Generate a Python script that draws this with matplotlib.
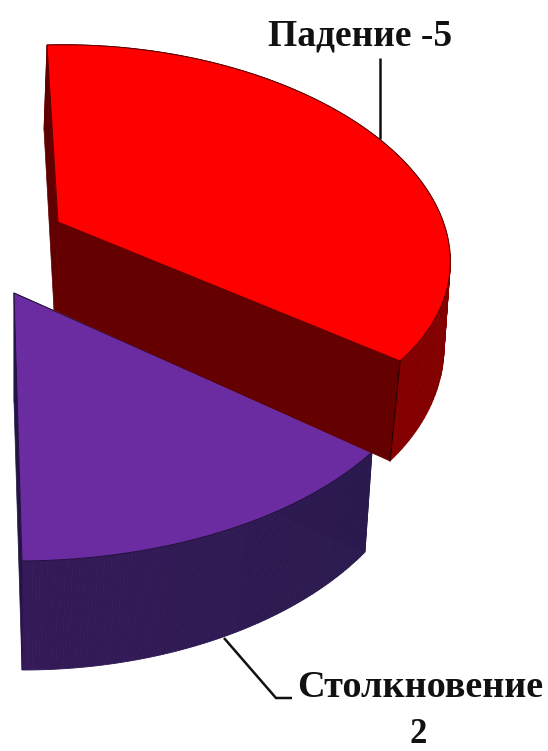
import numpy as np
import matplotlib
matplotlib.use("Agg")
import matplotlib.pyplot as plt
from matplotlib.patches import Polygon

categories = ["Падение", "Столкновение"]
values = [5, 2]
deg_per_unit = 25.0

W, H = 548, 751
fig = plt.figure(figsize=(W / 100, H / 100), dpi=100)
ax = fig.add_axes([0, 0, 1, 1])
ax.set_xlim(0, W)
ax.set_ylim(H, 0)
ax.axis("off")


def homography(src, dst):
    rows = []
    for (x, y), (u, v) in zip(src, dst):
        rows.append([x, y, 1, 0, 0, 0, -u * x, -u * y, -u])
        rows.append([0, 0, 0, x, y, 1, -v * x, -v * y, -v])
    return np.linalg.svd(np.array(rows))[2][-1].reshape(3, 3)


def project(M, t):
    p = M @ np.vstack([np.cos(t), np.sin(t), np.ones_like(t)])
    return (p[:2] / p[2]).T


def plane(sweep, frac, centre, start, end, arc):
    a = np.deg2rad(sweep)
    src = [(0, 0), (1, 0), (np.cos(a), np.sin(a)),
           (np.cos(a * frac), np.sin(a * frac))]
    return homography(src, [centre, start, end, arc])


def centre_of(M):
    p = M @ np.array([0, 0, 1.0])
    return p[:2] / p[2]


def best_frac(sweep, corners, guide):
    """Pick where the arc anchor sits along the sweep so the arc follows the guide points."""
    t = np.deg2rad(np.linspace(0, sweep, 400))
    guide = np.array(guide, float)
    best, best_err = 0.5, np.inf
    for frac in np.linspace(0.1, 0.9, 161):
        arc = project(plane(sweep, frac, *corners), t)
        d = np.linalg.norm(arc[None, :, :] - guide[:, None, :], axis=2).min(axis=1)
        err = (d ** 2).sum()
        if err < best_err:
            best, best_err = frac, err
    return best


def draw_slice(value, fracs, top, bottom, top_col, inner_col, outer_cols,
               strip_col, edge):
    sweep = value * deg_per_unit
    Mt = plane(sweep, fracs[0], *top)
    Mb = plane(sweep, fracs[1], *bottom)
    t = np.deg2rad(np.linspace(0, sweep, 121))
    at, ab = project(Mt, t), project(Mb, t)
    ct, cb = centre_of(Mt), centre_of(Mb)
    ax.add_patch(Polygon([ct, at[0], ab[0], cb], fc=strip_col[0], ec=strip_col[0], lw=0.5, zorder=strip_col[1]))
    ax.add_patch(Polygon([ct, at[-1], ab[-1], cb], fc=inner_col[0], ec=inner_col[0], lw=0.5, zorder=inner_col[1]))
    c0 = np.array(matplotlib.colors.to_rgb(outer_cols[0]))
    c1 = np.array(matplotlib.colors.to_rgb(outer_cols[1]))
    for i in range(len(t) - 1):
        f = i / (len(t) - 2)
        col = c0 + (c1 - c0) * f
        ax.add_patch(Polygon([at[i], at[i + 1], ab[i + 1], ab[i]], fc=col, ec=col,
                             lw=0.6, zorder=outer_cols[2]))
    ax.add_patch(Polygon(np.vstack([ct, at]), fc=top_col, ec=edge, lw=0.7,
                         joinstyle="round", zorder=outer_cols[2] + 2))


red_top = ((58, 222), (47, 45), (400, 361), (317, 100))
red_guide = [(113, 48), (163, 55), (270, 82), (377, 138), (450, 258), (437, 310)]
red_frac = best_frac(values[0] * deg_per_unit, red_top, red_guide)

# purple slice first, the red one sits behind and above it
draw_slice(values[1], (0.5, 0.5),
           ((14, 293), (372, 452), (22, 561), (227, 530)),
           ((14, 402), (365, 552), (22, 670), (220, 638)),
           "#6a2ca0", ("#241444", 7), ("#2a1a4e", "#341a58", 6), ("#241444", 5), "#24103f")
draw_slice(values[0], (red_frac, 0.8),
           red_top,
           ((54, 310), (44, 130), (390, 461), (444, 352)),
           "#ff0000", ("#640000", 11), ("#7c0000", "#840000", 10), ("#600000", 12), "#5a0000")

# corner edge between inner and outer wall
ax.plot([400, 390], [361, 461], color="#2a0000", lw=0.8, zorder=15)

# leader lines
ax.plot([380, 380], [58, 139], color="#111111", lw=1.8, zorder=3, solid_capstyle="butt")
ax.plot([224, 276, 292], [638, 698, 698], color="#111111", lw=1.8, zorder=3,
        solid_joinstyle="miter", solid_capstyle="butt")

serif = {"family": "Liberation Serif", "weight": "bold", "color": "#111111"}
ax.text(360, 45, f"{categories[0]} -{values[0]}", fontsize=27, ha="center", va="baseline", **serif)
ax.text(420, 697, categories[1], fontsize=27.5, ha="center", va="baseline", **serif)
ax.text(418, 743, str(values[1]), fontsize=25, ha="center", va="baseline", **serif)

fig.savefig("out.png", dpi=100, facecolor="white")
